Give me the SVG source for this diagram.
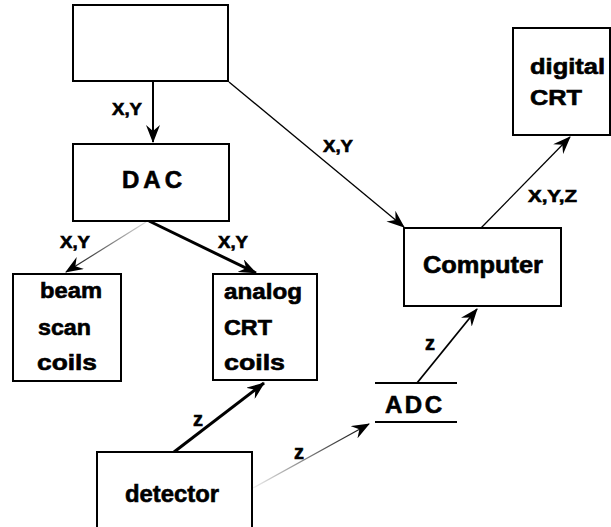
<svg xmlns="http://www.w3.org/2000/svg" width="611" height="527" viewBox="0 0 611 527">
<style>
.box{fill:#fff;stroke:#000;stroke-width:2}
.t{font-family:"Liberation Sans",Arial,sans-serif;font-weight:bold;fill:#000;stroke:#000;stroke-width:0.6}
.n{font-size:22px}
.l{font-size:16px}
.z{font-size:20px}
.c{fill:none;stroke:#000}
</style>
<defs>
<marker id="ah" viewBox="-17 -7 18 14" refX="0" refY="0" markerWidth="18" markerHeight="14" markerUnits="userSpaceOnUse" orient="auto">
<path d="M1,0 L-17,-7 L-11,0 L-17,7 Z" fill="#000"/>
</marker>
<linearGradient id="g1" gradientUnits="userSpaceOnUse" x1="146" y1="222" x2="65" y2="273">
<stop offset="0" stop-color="#ddd"/><stop offset="1" stop-color="#000"/>
</linearGradient>
<linearGradient id="g2" gradientUnits="userSpaceOnUse" x1="253" y1="488" x2="370" y2="423">
<stop offset="0" stop-color="#eee"/><stop offset="1" stop-color="#000"/>
</linearGradient>
</defs>
<g id="connectors">
<line class="c" x1="153" y1="81" x2="153" y2="142" stroke-width="2" marker-end="url(#ah)"/>
<line class="c" x1="229" y1="82" x2="404" y2="227" stroke-width="1.3" marker-end="url(#ah)"/>
<line x1="146" y1="222" x2="66" y2="272" stroke="url(#g1)" stroke-width="1.2" marker-end="url(#ah)"/>
<line class="c" x1="149" y1="221" x2="256" y2="273" stroke-width="3" marker-end="url(#ah)"/>
<line class="c" x1="481" y1="228" x2="570" y2="137" stroke-width="1.3" marker-end="url(#ah)"/>
<line class="c" x1="417" y1="383" x2="477" y2="309" stroke-width="1.8" marker-end="url(#ah)"/>
<line class="c" x1="174" y1="452" x2="264" y2="383" stroke-width="3" marker-end="url(#ah)"/>
<line x1="253" y1="488" x2="369" y2="424" stroke="url(#g2)" stroke-width="1.2" marker-end="url(#ah)"/>
<text class="t l" x="112" y="115" textLength="30" lengthAdjust="spacingAndGlyphs">X,Y</text>
<text class="t l" x="323" y="152" textLength="30" lengthAdjust="spacingAndGlyphs">X,Y</text>
<text class="t l" x="60" y="248" textLength="30" lengthAdjust="spacingAndGlyphs">X,Y</text>
<text class="t l" x="218" y="248" textLength="30" lengthAdjust="spacingAndGlyphs">X,Y</text>
<text class="t l" x="528" y="202" textLength="49" lengthAdjust="spacingAndGlyphs">X,Y,Z</text>
<text class="t z" x="425" y="350">z</text>
<text class="t z" x="193" y="426">z</text>
<text class="t z" x="294" y="459">z</text>
</g>
<g id="source"><rect class="box" x="73" y="5" width="155" height="76"/></g>
<g id="dac"><rect class="box" x="73" y="144" width="156" height="77"/>
<text class="t" font-size="24" x="122" y="188" textLength="60">DAC</text></g>
<g id="beam"><rect class="box" x="13" y="274" width="108" height="107"/>
<text class="t n" x="40" y="298" textLength="62" lengthAdjust="spacingAndGlyphs">beam</text>
<text class="t n" x="38" y="335" textLength="53" lengthAdjust="spacingAndGlyphs">scan</text>
<text class="t n" x="37" y="370" textLength="60" lengthAdjust="spacingAndGlyphs">coils</text></g>
<g id="analog"><rect class="box" x="213" y="274" width="104" height="106"/>
<text class="t n" x="224" y="299" textLength="78" lengthAdjust="spacingAndGlyphs">analog</text>
<text class="t n" x="224" y="335" textLength="48" lengthAdjust="spacingAndGlyphs">CRT</text>
<text class="t n" x="224" y="370" textLength="61" lengthAdjust="spacingAndGlyphs">coils</text></g>
<g id="computer"><rect class="box" x="404" y="228" width="157" height="78"/>
<text class="t" font-size="23" x="423" y="273" textLength="120" lengthAdjust="spacingAndGlyphs">Computer</text></g>
<g id="digital"><rect class="box" x="513" y="28" width="97" height="107"/>
<text class="t n" x="530" y="74" textLength="75" lengthAdjust="spacingAndGlyphs">digital</text>
<text class="t n" x="530" y="105" textLength="52" lengthAdjust="spacingAndGlyphs">CRT</text></g>
<g id="adc">
<line x1="375" y1="383" x2="457" y2="383" stroke="#000" stroke-width="2"/>
<line x1="375" y1="422" x2="457" y2="422" stroke="#000" stroke-width="2"/>
<text class="t" font-size="24" x="385" y="413" textLength="57">ADC</text></g>
<g id="detector"><rect class="box" x="97" y="452" width="155" height="80"/>
<text class="t" font-size="24" x="125" y="502" textLength="94" lengthAdjust="spacingAndGlyphs">detector</text></g>
</svg>
